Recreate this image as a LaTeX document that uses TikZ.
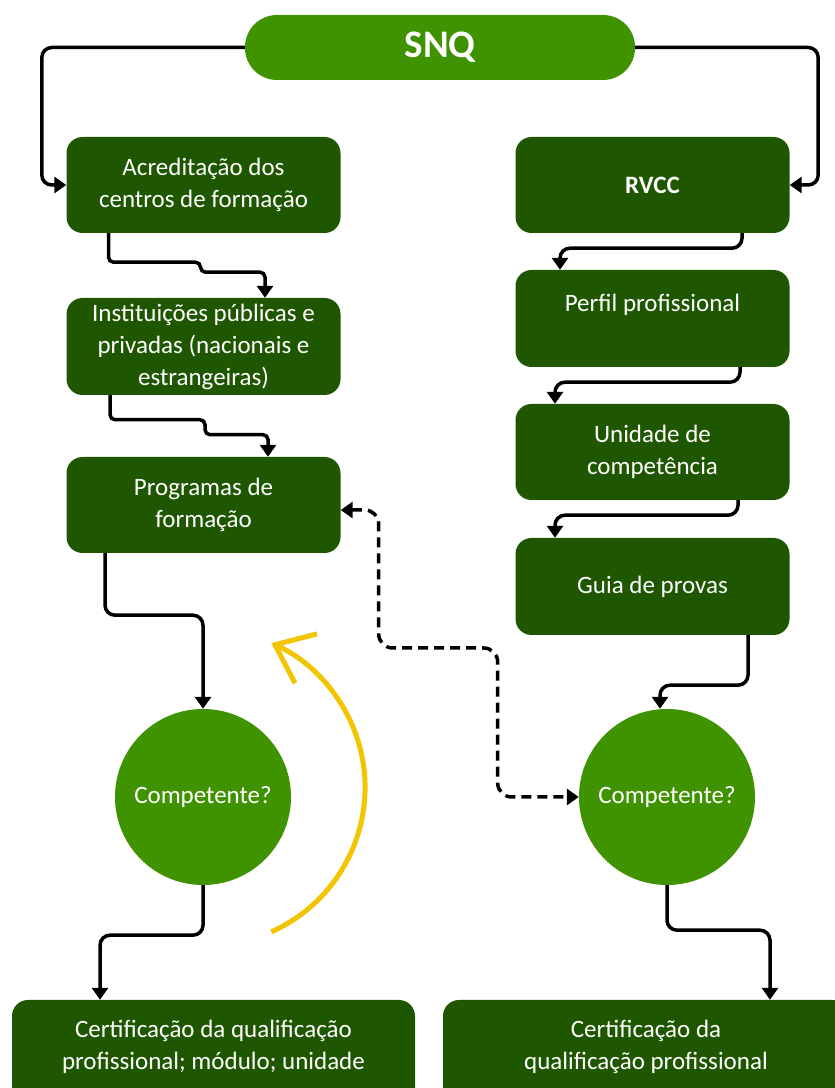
\documentclass[tikz,border=0pt]{standalone}
\usepackage{fontspec}
\setmainfont{Carlito}
\usetikzlibrary{arrows.meta}
\definecolor{darkgreen}{RGB}{31,87,0}
\definecolor{lightgreen}{RGB}{64,147,0}
\definecolor{loopyellow}{RGB}{242,197,0}

\begin{document}
\begin{tikzpicture}[x=1pt,y=1pt,
    box/.style={fill=darkgreen,rounded corners=16pt,text=white,align=center,inner sep=0pt,
        minimum width=274pt,minimum height=96pt,font=\fontsize{25}{32}\selectfont},
    pill/.style={fill=lightgreen,rounded corners=32pt,text=white,inner sep=0pt,
        minimum width=390pt,minimum height=65pt,font=\fontsize{39}{42}\selectfont\bfseries},
    ball/.style={circle,fill=lightgreen,text=white,inner sep=0pt,minimum size=176pt,
        font=\fontsize{25}{32}\selectfont},
    link/.style={line width=3.5pt,rounded corners=10pt,-{Triangle[length=12pt,width=16pt]}},
    dlink/.style={line width=3.5pt,rounded corners=14pt,dash pattern=on 10pt off 6pt,
        {Triangle[length=12pt,width=16pt]}-{Triangle[length=12pt,width=16pt]}},
    loop/.style={loopyellow,line width=5pt,-{Straight Barb[length=34pt,width=54pt]}}]
    \useasboundingbox (0,0) rectangle (835,1088);

    \node[pill] (snq) at (440,1040.5) {SNQ};
    \node[box] (acr) at (203.5,903) {Acreditação dos\\centros de formação};
    \node[box] (rvcc) at (652.5,903) {\textbf{RVCC}};
    \node[box,minimum height=97pt] (inst) at (203.5,741.5) {Instituições públicas e\\privadas (nacionais e\\estrangeiras)};
    \node[box] (prog) at (203.5,583) {Programas de\\formação};
    \node[box,minimum height=97pt] (perf) at (652.5,769.5) {Perfil profissional\\\mbox{}};
    \node[box] (unid) at (652.5,636) {Unidade de\\competência};
    \node[box,minimum height=97pt] (guia) at (652.5,501.5) {Guia de provas};
    \node[ball] (comp1) at (203,291) {Competente?};
    \node[ball] (comp2) at (667,291) {Competente?};
    \node[box,minimum width=403pt,minimum height=130pt,text depth=40pt] (cert1) at (213.5,23) {Certificação da qualificação\\profissional; módulo; unidade};
    \node[box,minimum width=406pt,minimum height=130pt,text depth=40pt] (cert2) at (646,23) {Certificação da\\qualificação profissional};

    \draw[link] (snq.west) -- ++(-203,0) |- (acr.west);
    \draw[link] (snq.east) -- ++(183,0) |- (rvcc.east);
    \draw[link,rounded corners=5pt] ([xshift=-95pt]acr.south) -- ++(0,-29) -- ++(92,0) -- ++(0,-10) -| ([xshift=61.5pt]inst.north);
    \draw[link,rounded corners=5pt] ([xshift=-93.5pt]inst.south) -- ++(0,-24.5) -- ++(95,0) -- ++(0,-15) -| ([xshift=64.5pt]prog.north);
    \draw[link] ([xshift=89.5pt]rvcc.south) -- ++(0,-15) -| ([xshift=-92.5pt]perf.north);
    \draw[link] ([xshift=87.5pt]perf.south) -- ++(0,-15) -| ([xshift=-97.5pt]unid.north);
    \draw[link] ([xshift=85.5pt]unid.south) -- ++(0,-15) -| ([xshift=-97.5pt]guia.north);
    \draw[link] ([xshift=95.5pt]guia.south) -- ++(0,-50) -| ([xshift=-7pt]comp2.north);
    \draw[link] ([xshift=-98.5pt]prog.south) -- ++(0,-62) -| (comp1.north);
    \draw[link] (comp1.south) -- ++(0,-50) -| ([xshift=-113.5pt]cert1.north);
    \draw[link] (comp2.south) -- ++(0,-45) -| ([xshift=124pt]cert2.north);
    \draw[dlink] ([yshift=-5pt]prog.east) -| ++(38,-138) -- ++(119,0) |- (comp2.west);
    \draw[loop] (271.3,156.2) arc[start angle=-66,end angle=66,radius=158pt];
\end{tikzpicture}
\end{document}
